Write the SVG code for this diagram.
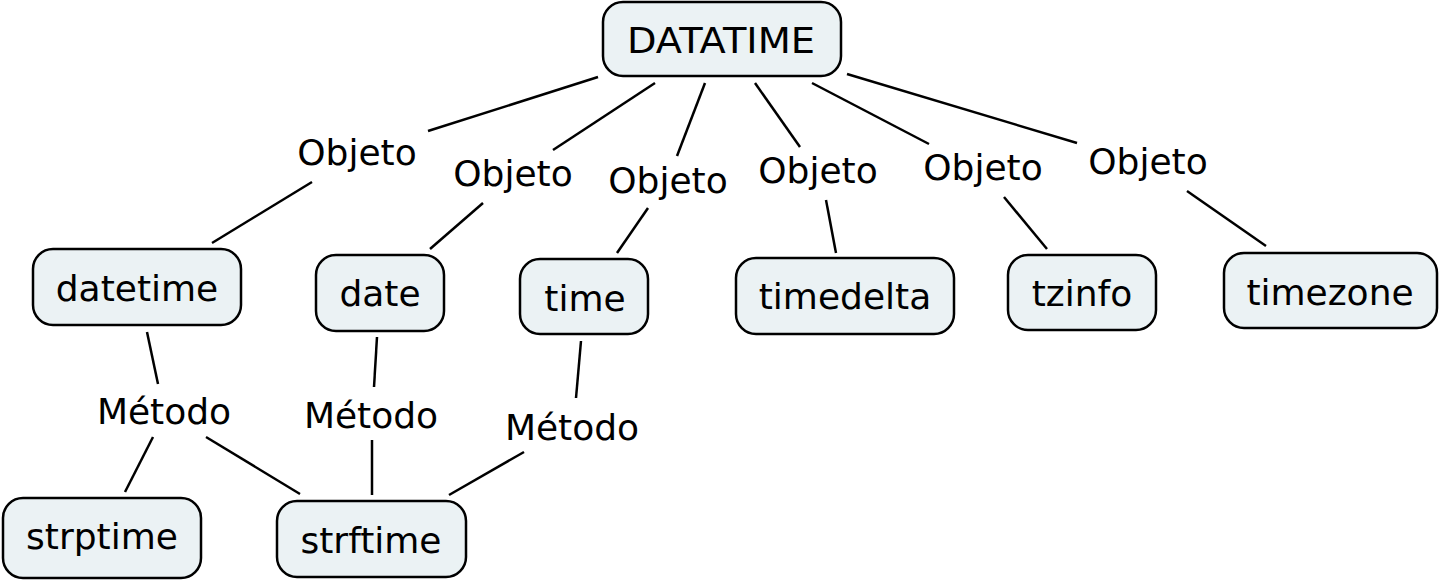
<svg xmlns="http://www.w3.org/2000/svg" width="1445" height="588" viewBox="0 0 1445 588">
<style>
.n rect{fill:#ebf2f4;stroke:#000;stroke-width:2.5}
text{font-family:"DejaVu Sans",Verdana,sans-serif;font-size:36px;fill:#000;text-anchor:middle;dominant-baseline:central}
.c line{stroke:#000;stroke-width:2.5}
</style>
<rect width="1445" height="588" fill="#fff"/>
<g class="c" id="connectors">
<line x1="598" y1="77" x2="428" y2="131"/><line x1="312" y1="182" x2="212" y2="243"/>
<line x1="655" y1="83" x2="553" y2="150"/><line x1="483" y1="203" x2="430" y2="249"/>
<line x1="705" y1="83" x2="677" y2="156"/><line x1="648" y1="208" x2="617" y2="253"/>
<line x1="755" y1="83" x2="800" y2="147"/><line x1="826" y1="200" x2="836" y2="253"/>
<line x1="812" y1="83" x2="929" y2="144"/><line x1="1004" y1="197" x2="1047" y2="249"/>
<line x1="847" y1="74" x2="1077" y2="143"/><line x1="1187" y1="191" x2="1266" y2="246"/>
<line x1="147" y1="332" x2="158" y2="384"/><line x1="153" y1="437" x2="125" y2="492"/><line x1="206" y1="437" x2="300" y2="494"/>
<line x1="377" y1="337" x2="374" y2="387"/><line x1="372" y1="440" x2="372" y2="495"/>
<line x1="581" y1="341" x2="576" y2="398"/><line x1="524" y1="452" x2="449" y2="495"/>
<text x="357" y="152">Objeto</text>
<text x="513" y="173">Objeto</text>
<text x="668" y="180">Objeto</text>
<text x="818" y="170">Objeto</text>
<text x="983" y="167">Objeto</text>
<text x="1148" y="161">Objeto</text>
<text x="164" y="411">Método</text>
<text x="371" y="415">Método</text>
<text x="572" y="427">Método</text>
</g>
<g class="n" id="n-datatime"><rect x="603" y="2" width="238" height="74" rx="20"/><text x="721" y="40" textLength="188" lengthAdjust="spacingAndGlyphs">DATATIME</text></g>
<g class="n" id="n-datetime"><rect x="33" y="249" width="208" height="76" rx="20"/><text x="137" y="288">datetime</text></g>
<g class="n" id="n-date"><rect x="316" y="255" width="128" height="76" rx="20"/><text x="380" y="293">date</text></g>
<g class="n" id="n-time"><rect x="520" y="259" width="128" height="75" rx="20"/><text x="585" y="298">time</text></g>
<g class="n" id="n-timedelta"><rect x="736" y="258" width="218" height="76" rx="20"/><text x="845" y="296">timedelta</text></g>
<g class="n" id="n-tzinfo"><rect x="1008" y="255" width="148" height="75" rx="20"/><text x="1082" y="293">tzinfo</text></g>
<g class="n" id="n-timezone"><rect x="1224" y="253" width="213" height="75" rx="20"/><text x="1330" y="292">timezone</text></g>
<g class="n" id="n-strptime"><rect x="3" y="498" width="198" height="80" rx="20"/><text x="102" y="536">strptime</text></g>
<g class="n" id="n-strftime"><rect x="277" y="501" width="189" height="76" rx="20"/><text x="371" y="540">strftime</text></g>
</svg>
